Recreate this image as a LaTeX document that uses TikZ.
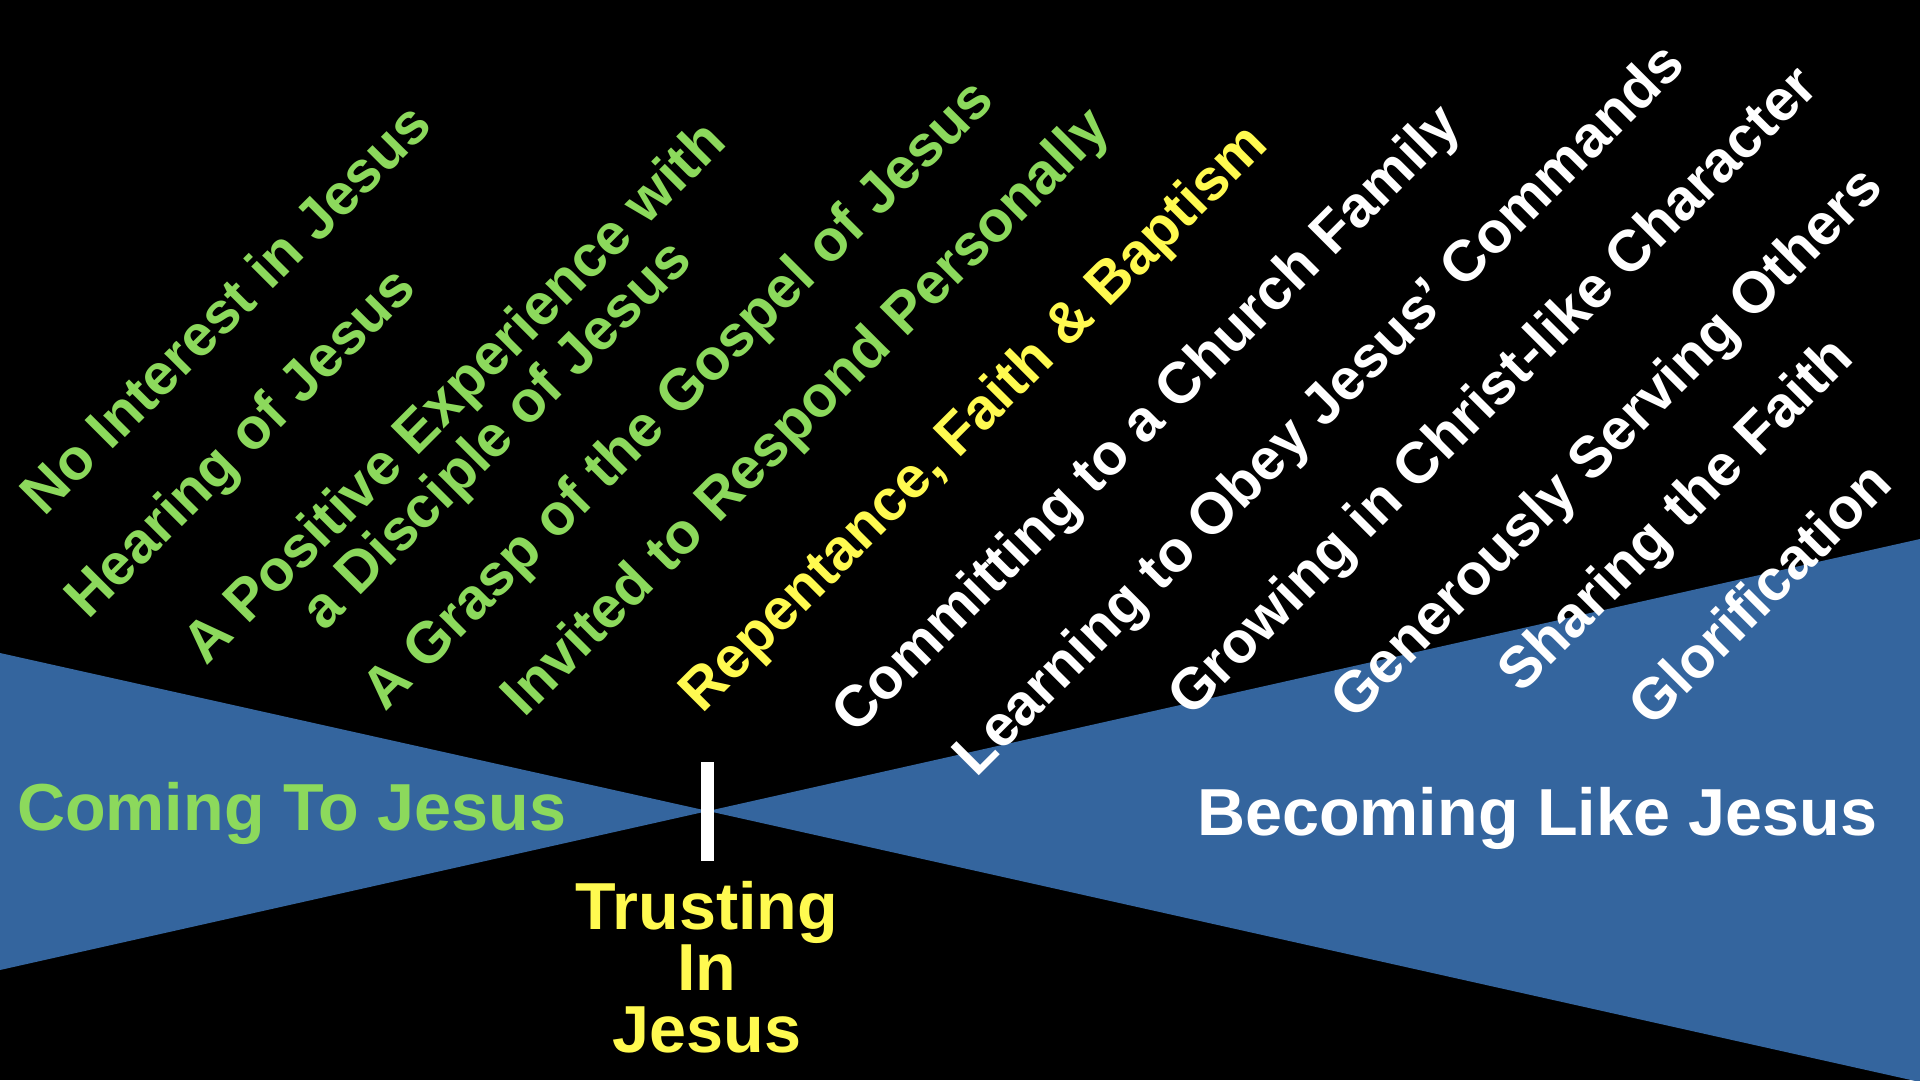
\documentclass[tikz,border=0pt]{standalone}
\usepackage{fontspec}
\setmainfont{Liberation Sans}
\definecolor{bandblue}{RGB}{52,101,158}
\definecolor{stagegreen}{RGB}{140,217,92}
\definecolor{stageyellow}{RGB}{255,250,80}
\begin{document}
\begin{tikzpicture}[x=1pt,y=-1pt,
  stage/.style={rotate=45, inner sep=0pt, anchor=center, align=center,
    font=\bfseries\fontsize{58}{59}\selectfont},
  big/.style={inner sep=0pt, font=\bfseries\fontsize{66.5}{61.5}\selectfont}]
\fill[black] (0,0) rectangle (1920,1080);
\useasboundingbox (0,0) rectangle (1920,1080);
\coordinate (apex) at (708,811);
\fill[bandblue] (0,653) -- (apex) -- (0,970) -- cycle;
\fill[bandblue] (apex) -- (1920,539) -- (1920,1082) -- cycle;
\node (bar) [fill=white, inner sep=0pt, minimum width=13, minimum height=99] at (707.5,811.5) {};

\node (s1) [stage, text=stagegreen] at (225,308) {No Interest in Jesus};
\node (s2) [stage, text=stagegreen] at (243,445) {Hearing of Jesus};
\node (s3) [stage, text=stagegreen] at (478,416) {A Positive Experience with\\a Disciple of Jesus};
\node (s4) [stage, text=stagegreen] at (680,397) {A Grasp of the Gospel of Jesus};
\node (s5) [stage, text=stagegreen] at (808,414) {Invited to Respond Personally};
\node (s6) [stage, text=stageyellow] at (976,420) {Repentance, Faith \& Baptism};
\node (s7) [stage, text=white] at (1149,421) {Committing to a Church Family};
\node (s8) [stage, text=white] at (1321,412) {Learning to Obey Jesus’ Commands};
\node (s9) [stage, text=white] at (1495,393) {Growing in Christ-like Character};
\node (s10) [stage, text=white] at (1609,445) {Generously Serving Others};
\node (s11) [stage, text=white] at (1678,517) {Sharing the Faith};
\node (s12) [stage, text=white] at (1759,593) {Glorification};

\node (coming) [big, text=stagegreen, anchor=base west] at (17,830) {Coming To Jesus};
\node (becoming) [big, text=white, anchor=base west] at (1197,835) {Becoming Like Jesus};
\node (trusting) [big, text=stageyellow, align=center, anchor=center] at (707,967) {Trusting\\In\\Jesus};
\end{tikzpicture}
\end{document}
